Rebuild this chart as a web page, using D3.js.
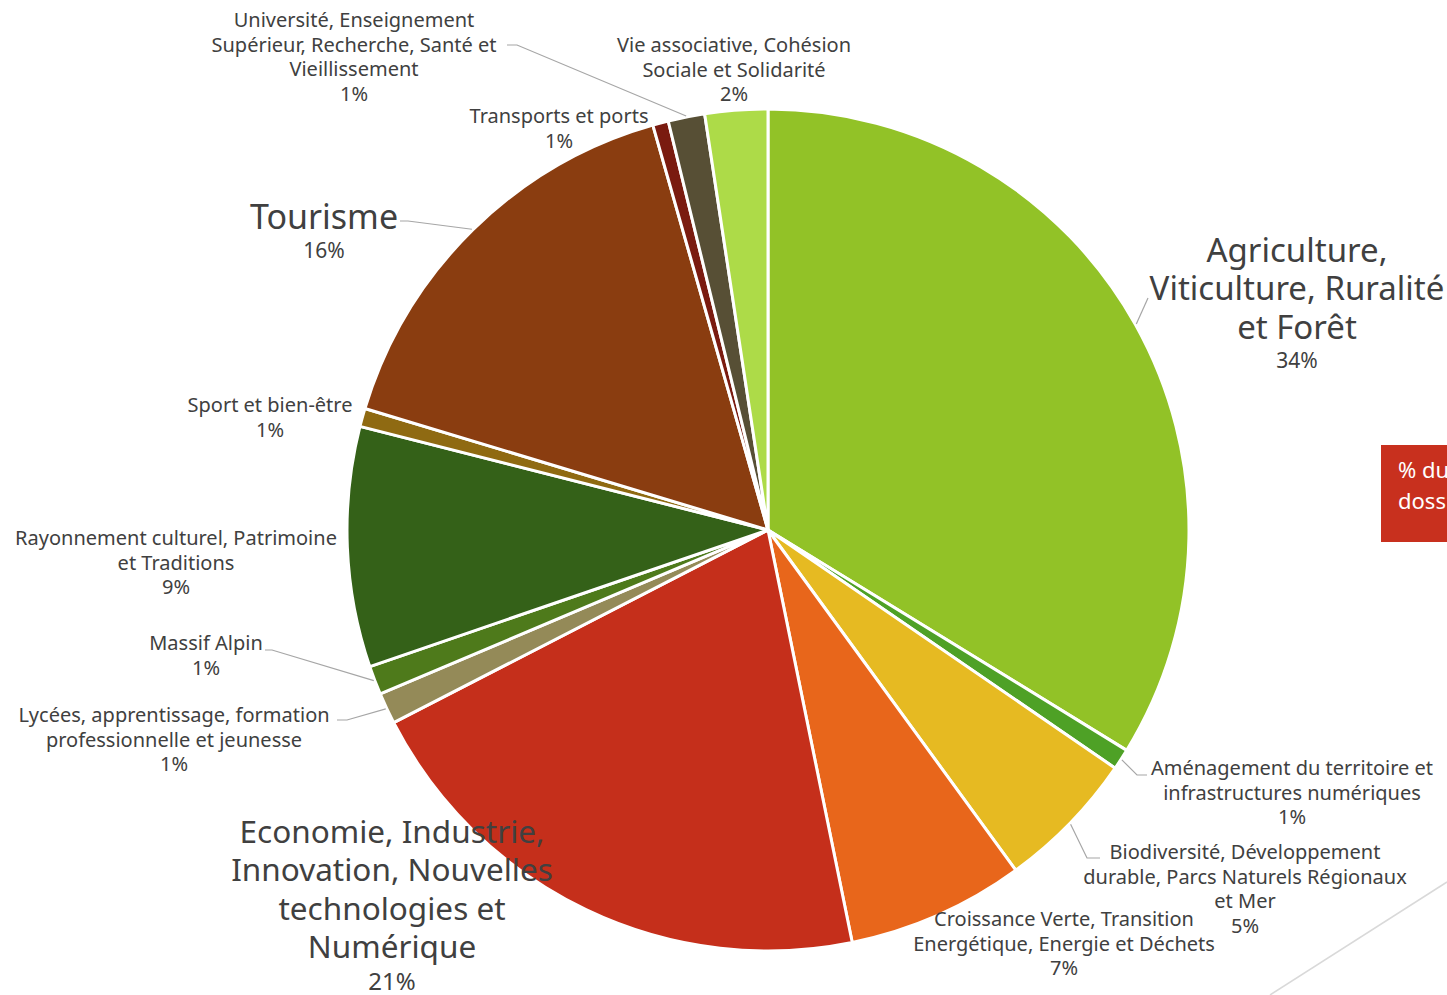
<!DOCTYPE html>
<html>
<head>
<meta charset="utf-8">
<script src="https://cdn.jsdelivr.net/npm/d3@7"></script>
<style>
  body { margin: 0; background: #fff; }
  text { font-family: "Noto Sans", "Open Sans", sans-serif; fill: #404040; }
</style>
</head>
<body>
<div id="chart"></div>
<script>
// categories, clockwise from 12 o'clock
const categories = [
    "Agriculture, Viticulture, Ruralité et Forêt",
    "Aménagement du territoire et infrastructures numériques",
    "Biodiversité, Développement durable, Parcs Naturels Régionaux et Mer",
    "Croissance Verte, Transition Energétique, Energie et Déchets",
    "Economie, Industrie, Innovation, Nouvelles technologies et Numérique",
    "Lycées, apprentissage, formation professionnelle et jeunesse",
    "Massif Alpin",
    "Rayonnement culturel, Patrimoine et Traditions",
    "Sport et bien-être",
    "Tourisme",
    "Transports et ports",
    "Université, Enseignement Supérieur, Recherche, Santé et Vieillissement",
    "Vie associative, Cohésion Sociale et Solidarité"
];
// share of files (%)
const values = [33.7, 0.8, 5.4, 6.8, 20.6, 1.2, 1.1, 9.2, 0.7, 15.9, 0.6, 1.4, 2.4];
const colors = ["#92c227", "#4ea126", "#e6ba22", "#e8661b", "#c52f1b", "#948a58",
    "#4e7a1b", "#346118", "#8f6a12", "#8a3d10", "#7a1b10", "#574f35", "#addb48"];

// label layout: wrapped lines, centre x, first baseline, size, leader elbow points
const labelLayout = [
    {lines: ["Agriculture,", "Viticulture, Ruralité", "et Forêt"], x: 1297, y: 262, big: 33, pctY: 368, leader: [[1148, 298]]},
    {lines: ["Aménagement du territoire et", "infrastructures numériques"], x: 1292, y: 775, leader: [[1137, 775], [1147, 775]]},
    {lines: ["Biodiversité, Développement", "durable, Parcs Naturels Régionaux", "et Mer"], x: 1245, y: 859, leader: [[1087, 858], [1100, 858]]},
    {lines: ["Croissance Verte, Transition", "Energétique, Energie et Déchets"], x: 1064, y: 926},
    {lines: ["Economie, Industrie,", "Innovation, Nouvelles", "technologies et", "Numérique"], x: 392, y: 843, big: 31.5, pctY: 990, pctSize: 24},
    {lines: ["Lycées, apprentissage, formation", "professionnelle et jeunesse"], x: 174, y: 722, leader: [[347, 720], [337, 720]]},
    {lines: ["Massif Alpin"], x: 206, y: 650, leader: [[272, 650], [265, 650]]},
    {lines: ["Rayonnement culturel, Patrimoine", "et Traditions"], x: 176, y: 545},
    {lines: ["Sport et bien-être"], x: 270, y: 412},
    {lines: ["Tourisme"], x: 324, y: 229, big: 34, pctY: 258, leader: [[408, 221], [400, 221]]},
    {lines: ["Transports et ports"], x: 559, y: 123},
    {lines: ["Université, Enseignement", "Supérieur, Recherche, Santé et", "Vieillissement"], x: 354, y: 27, leader: [[517, 45], [507, 45]]},
    {lines: ["Vie associative, Cohésion", "Sociale et Solidarité"], x: 734, y: 52}
];

const width = 1447, height = 995;
const cx = 768, cy = 530, radius = 421;

const svg = d3.select("#chart").append("svg")
    .attr("width", width)
    .attr("height", height);

svg.append("rect").attr("width", width).attr("height", height).attr("fill", "#fff");

// decorative line bottom right
svg.append("line")
    .attr("x1", 1270).attr("y1", 995)
    .attr("x2", 1447).attr("y2", 882)
    .attr("stroke", "#d9d9d9").attr("stroke-width", 1.5);

const data = categories.map((c, i) => ({name: c, value: values[i], color: colors[i], layout: labelLayout[i]}));
const total = d3.sum(values);

const pie = d3.pie().sort(null).value(d => d.value);
const arcs = pie(data);

const arc = d3.arc().innerRadius(0).outerRadius(radius);
const edgeArc = d3.arc().innerRadius(radius + 1).outerRadius(radius + 1);

const g = svg.append("g").attr("transform", `translate(${cx},${cy})`);

g.selectAll(".slice")
    .data(arcs)
    .enter()
    .append("path")
    .attr("class", "slice")
    .attr("d", arc)
    .attr("fill", d => d.data.color)
    .attr("stroke", "#fff")
    .attr("stroke-width", 3)
    .attr("stroke-linejoin", "round");

// leader lines
const line = d3.line();
svg.selectAll(".leader")
    .data(arcs.filter(d => d.data.layout.leader))
    .enter()
    .append("path")
    .attr("class", "leader")
    .attr("d", d => {
        const c = edgeArc.centroid(d);
        return line([[c[0] + cx, c[1] + cy]].concat(d.data.layout.leader));
    })
    .attr("fill", "none")
    .attr("stroke", "#a6a6a6")
    .attr("stroke-width", 1.2);

// labels
const labels = svg.selectAll(".label")
    .data(arcs)
    .enter()
    .append("text")
    .attr("class", "label")
    .attr("text-anchor", "middle");

labels.each(function (d) {
    const L = d.data.layout;
    const t = d3.select(this);
    const size = L.big || 20;
    const lh = L.big ? 38.3 : 24.5;
    L.lines.forEach((s, i) => {
        t.append("tspan")
            .attr("x", L.x)
            .attr("y", L.y + i * lh)
            .attr("font-size", size)
            .text(s);
    });
    const pct = Math.round(d.data.value / total * 100) + "%";
    t.append("tspan")
        .attr("x", L.x)
        .attr("y", L.big ? L.pctY : L.y + L.lines.length * lh)
        .attr("font-size", L.big ? (L.pctSize || 21) : size)
        .text(pct);
});

// side box (cut by the page edge)
svg.append("rect")
    .attr("x", 1381).attr("y", 445)
    .attr("width", 80).attr("height", 97)
    .attr("fill", "#c8301e");
const box = svg.append("text").style("fill", "#fff").attr("font-size", 22);
box.append("tspan").attr("x", 1398).attr("y", 478).text("% du");
box.append("tspan").attr("x", 1398).attr("y", 509).text("doss");
</script>
</body>
</html>
